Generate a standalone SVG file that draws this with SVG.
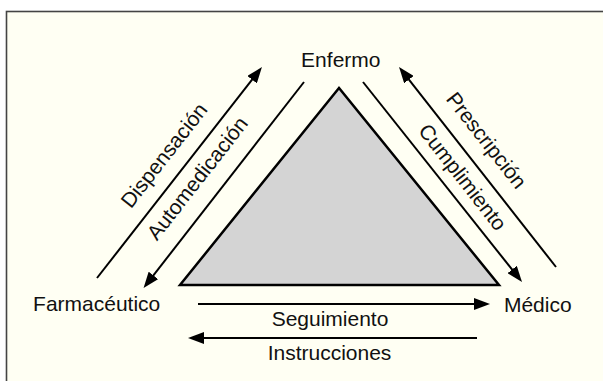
<svg xmlns="http://www.w3.org/2000/svg" width="603" height="381" viewBox="0 0 603 381">
<style>
text{font-family:"Liberation Sans",Arial,Helvetica,sans-serif;font-size:21px;fill:#111;text-anchor:middle}
.c{stroke:#000;stroke-width:2;fill:none}
</style>
<defs>
<marker id="ah" viewBox="0 0 16 12" refX="6" refY="6" markerWidth="16" markerHeight="12" markerUnits="userSpaceOnUse" orient="auto">
<path d="M0,0 L16,6 L0,12 z" fill="#000"/>
</marker>
</defs>
<rect x="0" y="0" width="603" height="381" fill="#fff"/>
<rect x="6.5" y="11.5" width="620" height="400" fill="#fffff3" stroke="#444" stroke-width="1.6"/>
<g id="triangle">
<polygon points="339,88 180,285 499,285" fill="#d4d4d4" stroke="#000" stroke-width="2.5" stroke-linejoin="miter"/>
</g>
<g id="connectors">
<line class="c" x1="97" y1="278" x2="255.8" y2="74.9" marker-end="url(#ah)"/>
<line class="c" x1="304" y1="82" x2="149.7" y2="280.1" marker-end="url(#ah)"/>
<line class="c" x1="363" y1="82" x2="515.8" y2="274.2" marker-end="url(#ah)"/>
<line class="c" x1="556" y1="267" x2="405.2" y2="74.9" marker-end="url(#ah)"/>
<line class="c" x1="198" y1="304" x2="480" y2="304" marker-end="url(#ah)"/>
<line class="c" x1="477" y1="338" x2="198" y2="338" marker-end="url(#ah)"/>
<text transform="translate(169.7,159.7) rotate(-52)">Dispensación</text>
<text transform="translate(203,182.7) rotate(-52)">Automedicación</text>
<text transform="translate(480.8,144.7) rotate(52)">Prescripción</text>
<text transform="translate(457,181.7) rotate(52)">Cumplimiento</text>
<text x="330" y="325.7">Seguimiento</text>
<text x="329.5" y="360">Instrucciones</text>
</g>
<g id="enfermo"><text x="340.8" y="66.7">Enfermo</text></g>
<g id="farmaceutico"><text x="96.7" y="310.7">Farmacéutico</text></g>
<g id="medico"><text x="537.8" y="311.7">Médico</text></g>
</svg>
